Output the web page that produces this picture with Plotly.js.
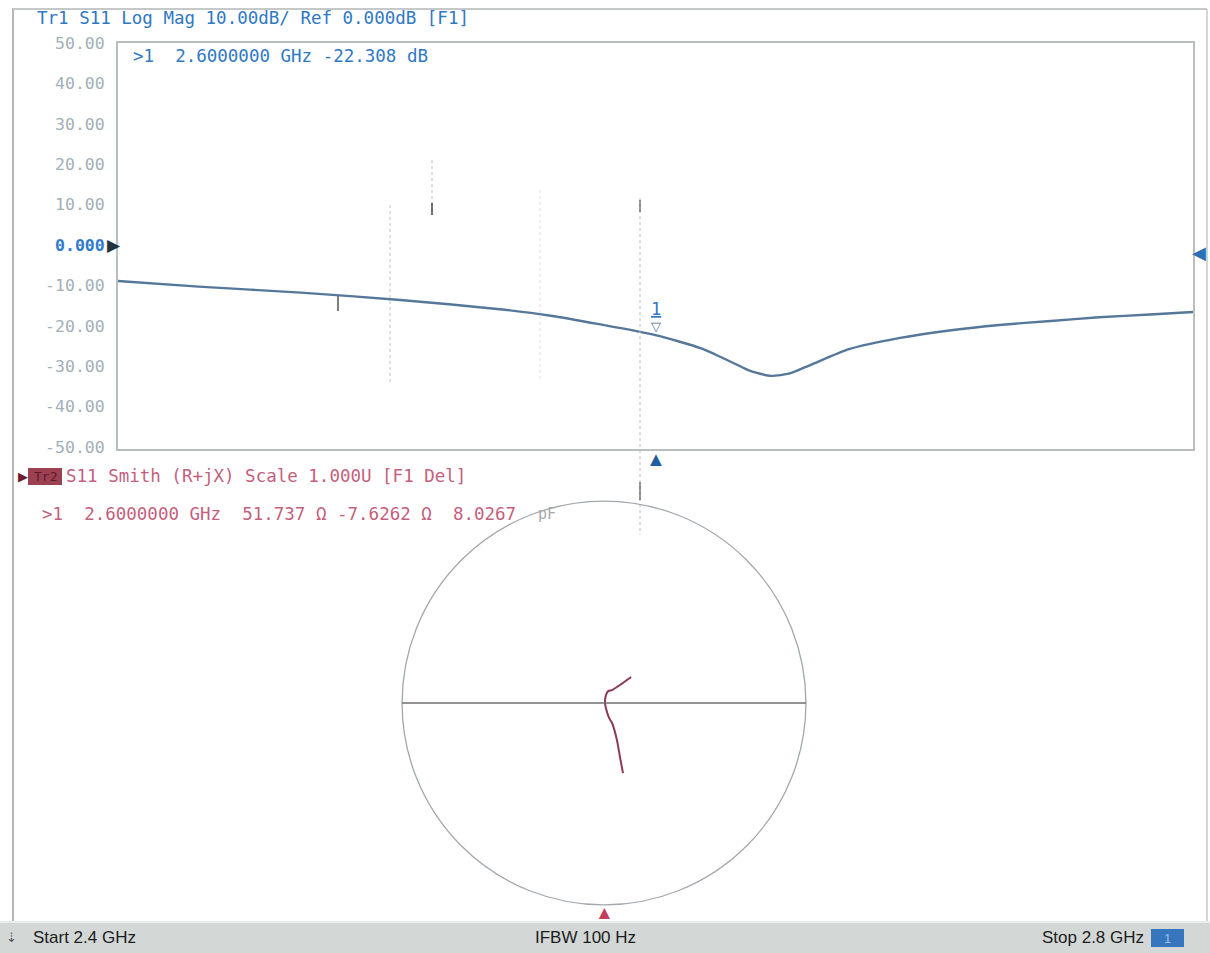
<!DOCTYPE html>
<html><head><meta charset="utf-8">
<script src="https://cdn.plot.ly/plotly-3.0.1.min.js"></script>
<style>html,body{margin:0;padding:0;background:#fff;overflow:hidden}#chart{width:1210px;height:953px}</style>
</head><body><div id="chart"></div>
<script>
// ---- data ----
const freqGHz = [2.400, 2.430, 2.468, 2.505, 2.542, 2.561, 2.579, 2.600, 2.617, 2.628, 2.635, 2.643, 2.650, 2.658, 2.672, 2.691, 2.710, 2.728, 2.747, 2.765, 2.784, 2.800];
const s11dB   = [-8.9, -10.3, -11.8, -13.6, -15.9, -17.5, -19.6, -22.3, -25.6, -28.9, -31.1, -32.4, -31.8, -29.6, -25.8, -23.0, -21.1, -19.8, -18.8, -17.9, -17.2, -16.6];
const smithRe = [0.094, 0.079, 0.064, 0.040, 0.025, 0.012, 0.005, 0.010, 0.022, 0.040, 0.079, 0.134];
const smithIm = [-0.347, -0.267, -0.183, -0.099, -0.074, -0.035, 0.000, 0.040, 0.060, 0.064, 0.089, 0.129];
const yTickVals = [50, 40, 30, 20, 10, 0, -10, -20, -30, -40, -50];
const yTickText = ["50.00", "40.00", "30.00", "20.00", "10.00", '<span style="color:#2f7ad0;font-weight:bold">0.000</span>', "-10.00", "-20.00", "-30.00", "-40.00", "-50.00"];
const markerFreq = 2.6;
const markerDB = -22.308;
const startGHz = 2.4, stopGHz = 2.8;
const tr1Header = "Tr1 S11 Log Mag 10.00dB/ Ref 0.000dB [F1]";
const tr1Marker = ">1  2.6000000 GHz -22.308 dB";
const tr2Header = "S11 Smith (R+jX) Scale 1.000U [F1 Del]";
const tr2Marker = ">1  2.6000000 GHz  51.737 \u03A9 -7.6262 \u03A9  8.0267";
const statusTexts = ["Start 2.4 GHz", "IFBW 100 Hz", "Stop 2.8 GHz"];

// ---- layout helpers ----
const W = 1210, H = 953;
const px = x => x / W, py = y => 1 - y / H;
const mono = "DejaVu Sans Mono, monospace";
const blue = "#2f78c4", pink = "#c45f7e";

const traces = [
  {x: freqGHz, y: s11dB, type: "scatter", mode: "lines", xaxis: "x", yaxis: "y",
   line: {color: "#55779a", width: 2.4, shape: "spline", smoothing: 0.6}, hoverinfo: "skip"},
  {x: smithRe, y: smithIm, type: "scatter", mode: "lines", xaxis: "x2", yaxis: "y2",
   line: {color: "#8c3a5a", width: 2, shape: "spline", smoothing: 0.5}, hoverinfo: "skip"}
];

const fOfPx = x => startGHz + (x - 118) / (1193 - 118) * (stopGHz - startGHz);

const shapes = [
  // outer frame
  {type: "line", xref: "paper", yref: "paper", x0: px(13), x1: px(13), y0: py(8), y1: py(922), line: {color: "#b5b8b8", width: 2}},
  {type: "line", xref: "paper", yref: "paper", x0: px(13), x1: px(1207), y0: py(9), y1: py(9), line: {color: "#c5c8c8", width: 2}},
  {type: "line", xref: "paper", yref: "paper", x0: px(1207), x1: px(1207), y0: py(9), y1: py(922), line: {color: "#c5c8c8", width: 1.5}},
  // faint scan artefact lines
  {type: "line", xref: "x", yref: "paper", x0: fOfPx(390), x1: fOfPx(390), y0: py(205), y1: py(383), line: {color: "#c4c4c4", width: 1, dash: "dot"}},
  {type: "line", xref: "x", yref: "paper", x0: fOfPx(540), x1: fOfPx(540), y0: py(190), y1: py(380), line: {color: "#e2e2e2", width: 1, dash: "dot"}},
  {type: "line", xref: "x", yref: "paper", x0: fOfPx(432), x1: fOfPx(432), y0: py(160), y1: py(215), line: {color: "#bdbdbd", width: 1, dash: "dot"}},
  {type: "line", xref: "x", yref: "paper", x0: fOfPx(432), x1: fOfPx(432), y0: py(203), y1: py(215), line: {color: "#444", width: 1.5}},
  {type: "line", xref: "x", yref: "paper", x0: fOfPx(640), x1: fOfPx(640), y0: py(198), y1: py(535), line: {color: "#bcbcbc", width: 1, dash: "dot"}},
  {type: "line", xref: "x", yref: "paper", x0: fOfPx(640), x1: fOfPx(640), y0: py(200), y1: py(212), line: {color: "#555", width: 1.2}},
  {type: "line", xref: "x", yref: "paper", x0: fOfPx(640), x1: fOfPx(640), y0: py(482), y1: py(500), line: {color: "#555", width: 1.2}},
  {type: "line", xref: "x", yref: "paper", x0: fOfPx(338), x1: fOfPx(338), y0: py(296), y1: py(311), line: {color: "#555", width: 1.5}},
  // Tr2 badge
  {type: "rect", xref: "paper", yref: "paper", x0: px(28), x1: px(62), y0: py(485), y1: py(468), fillcolor: "#9c4152", line: {width: 0}},
  // Smith chart outer circle and real axis
  {type: "circle", xref: "x2", yref: "y2", x0: -1, x1: 1, y0: -1, y1: 1, line: {color: "#a3a8ae", width: 1.3}},
  {type: "line", xref: "x2", yref: "y2", x0: -1, x1: 1, y0: 0, y1: 0, line: {color: "#6f6f6f", width: 1.5}},
  // status bar
  {type: "rect", xref: "paper", yref: "paper", x0: 0, x1: 1, y0: 0, y1: py(922), fillcolor: "#d3d8d6", line: {width: 0}},
  {type: "line", xref: "paper", yref: "paper", x0: 0, x1: 1, y0: py(922), y1: py(922), line: {color: "#e8ecea", width: 2}},
  {type: "rect", xref: "paper", yref: "paper", x0: px(1151), x1: px(1184), y0: py(947), y1: py(929), fillcolor: "#3576bf", line: {width: 0}}
];

const ann = (o) => Object.assign({showarrow: false, xref: "paper", yref: "paper", xanchor: "left", yanchor: "middle"}, o);

const annotations = [
  ann({x: px(35), y: py(18), text: tr1Header, font: {family: mono, size: 17.5, color: blue}}),
  ann({x: px(131), y: py(56), text: tr1Marker, font: {family: mono, size: 17.5, color: blue}}),
  ann({x: px(105), y: 0, yref: "y", text: "\u25B6", font: {size: 17, color: "#24323f"}}),
  ann({x: px(1190), y: -1.8, yref: "y", text: "\u25C0", font: {size: 18, color: "#2f6fb8"}}),
  ann({x: markerFreq, xref: "x", y: markerDB, yref: "y", xanchor: "center", yanchor: "bottom", yshift: -2, text: "\u25BD", font: {size: 13, color: "#4a6a90"}}),
  ann({x: markerFreq, xref: "x", y: markerDB, yref: "y", xanchor: "center", yanchor: "bottom", yshift: 14, text: "<u>1</u>", font: {family: mono, size: 17, color: blue}}),
  ann({x: markerFreq, xref: "x", y: py(458), xanchor: "center", text: "\u25B2", font: {size: 20, color: "#1f5f9f"}}),
  ann({x: px(16), y: py(476), text: "\u25B6", font: {size: 13, color: "#6a1e30"}}),
  ann({x: px(45), y: py(476), xanchor: "center", text: "Tr2", font: {family: mono, size: 13, color: "#5c1a2a"}}),
  ann({x: px(64), y: py(476), text: tr2Header, font: {family: mono, size: 17.5, color: pink}}),
  ann({x: px(40), y: py(514), text: tr2Marker, font: {family: mono, size: 17.5, color: pink}}),
  ann({x: px(536), y: py(514), text: "pF", font: {family: mono, size: 15, color: "#a8a8a8"}}),
  ann({x: 0, xref: "x2", y: py(912), xanchor: "center", text: "\u25B2", font: {size: 19, color: "#c2405c"}}),
  ann({x: px(31), y: py(937), text: statusTexts[0], font: {family: "Liberation Sans Narrow, Liberation Sans, Arial", size: 17, color: "#1c1c1c"}}),
  ann({x: px(585), y: py(937), xanchor: "center", text: statusTexts[1], font: {family: "Liberation Sans Narrow, Liberation Sans, Arial", size: 17, color: "#1c1c1c"}}),
  ann({x: px(1040), y: py(937), text: statusTexts[2], font: {family: "Liberation Sans Narrow, Liberation Sans, Arial", size: 17, color: "#1c1c1c"}}),
  ann({x: px(1167), y: py(938), xanchor: "center", text: "1", font: {family: "Liberation Sans Narrow, Arial", size: 13, color: "#9cc0e8"}}),
  ann({x: px(4), y: py(937), text: "\u21E3", font: {size: 13, color: "#555"}})
];

const layout = {
  width: W, height: H,
  margin: {l: 0, r: 0, t: 0, b: 0},
  paper_bgcolor: "#ffffff", plot_bgcolor: "#ffffff",
  showlegend: false,
  xaxis: {domain: [px(118), px(1193)], range: [startGHz, stopGHz], showgrid: false, zeroline: false,
          showticklabels: false, ticks: "", showline: true, mirror: true, linecolor: "#b9bebe", linewidth: 2, fixedrange: true},
  yaxis: {domain: [py(449), py(43)], range: [-50.5, 50], showgrid: false, zeroline: false,
          tickvals: yTickVals, ticktext: yTickText, ticks: "outside", ticklen: 8, tickcolor: "rgba(0,0,0,0)",
          tickfont: {family: mono, size: 16.5, color: "#a2b0b7"},
          showline: true, mirror: true, linecolor: "#b9bebe", linewidth: 2, fixedrange: true},
  xaxis2: {domain: [px(394), px(814)], range: [-1.04, 1.04], visible: false, fixedrange: true},
  yaxis2: {domain: [py(913), py(493)], range: [-1.04, 1.04], visible: false, fixedrange: true},
  shapes: shapes,
  annotations: annotations
};

Plotly.newPlot("chart", traces, layout, {staticPlot: true, displayModeBar: false});
</script></body></html>
